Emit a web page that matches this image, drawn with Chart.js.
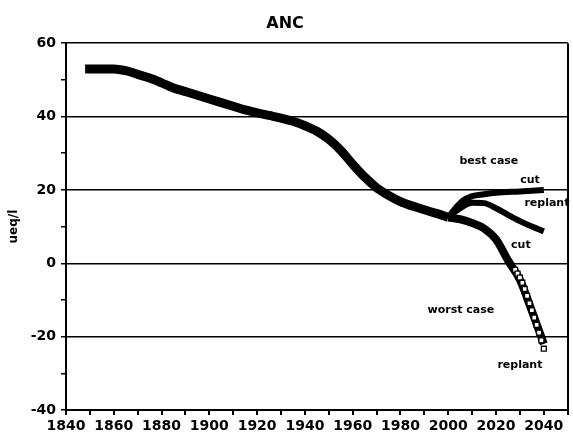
<!DOCTYPE html>
<html>
<head>
<meta charset="utf-8">
<script src="https://cdn.jsdelivr.net/npm/chart.js@4/dist/chart.umd.min.js"></script>
<style>
  html, body { margin: 0; padding: 0; background: #fff; }
  #wrap { width: 573px; height: 437px; }
</style>
</head>
<body>
<div id="wrap"><canvas id="chartCanvas"></canvas></div>
<script>
// historical ANC, ueq/l
const mainYears = [1848, 1850, 1855, 1860, 1865, 1870, 1875, 1880, 1885, 1890, 1895, 1900, 1905, 1910, 1915, 1920, 1925, 1930, 1935, 1940, 1945, 1950, 1955, 1960, 1965, 1970, 1975, 1980, 1985, 1990, 1995, 2000];
const mainValues = [53, 53, 53, 53, 52.5, 51.5, 50.5, 49.2, 47.8, 46.8, 45.8, 44.8, 43.8, 42.8, 41.8, 41, 40.3, 39.6, 38.7, 37.5, 36, 33.8, 30.8, 27, 23.5, 20.6, 18.5, 16.8, 15.6, 14.6, 13.6, 12.5];

// scenarios
const bestCutYears = [2000, 2003, 2006, 2010, 2015, 2020, 2030, 2040];
const bestCutValues = [12.5, 15, 17, 18.3, 18.8, 19.2, 19.6, 20];
const bestReplantYears = [2000, 2005, 2010, 2015, 2020, 2025, 2030, 2035, 2040];
const bestReplantValues = [12.5, 15, 16.5, 16.4, 15, 13.2, 11.5, 10, 8.7];
const worstCutYears = [2000, 2005, 2010, 2015, 2020, 2025, 2030, 2035, 2040];
const worstCutValues = [12.5, 12, 11, 9.5, 6.5, 0.8, -4.5, -13, -22];
const worstReplantYears = [2028, 2029, 2030, 2031, 2032, 2033, 2034, 2035, 2036, 2037, 2038, 2039, 2040];
const worstReplantValues = [-1.8, -2.8, -3.9, -5.3, -7, -8.9, -10.9, -12.8, -14.8, -16.8, -18.9, -21, -23.3];

// tick labels
const xTickLabels = [1840, 1860, 1880, 1900, 1920, 1940, 1960, 1980, 2000, 2020, 2040];
const yTickLabels = [-40, -20, 0, 20, 40, 60];

// curve labels (year, value)
const noteTexts = ['best case', 'cut', 'replant', 'cut', 'worst case', 'replant'];
const noteYears = [2017, 2034.2, 2041.3, 2030.4, 2005.3, 2030];
const noteValues = [27.9, 22.7, 16.5, 5.0, -12.7, -27.9];

const pts = (xs, ys) => xs.map((x, i) => ({ x: x, y: ys[i] }));
const FONT = "'DejaVu Sans', sans-serif";

const notesPlugin = {
    id: 'notes',
    afterDatasetsDraw(chart) {
        const c = chart.ctx;
        const xs = chart.scales.x, ys = chart.scales.y;
        c.save();
        c.fillStyle = '#000';
        c.font = 'bold 11px ' + FONT;
        c.textAlign = 'center';
        c.textBaseline = 'middle';
        noteTexts.forEach((t, i) => {
            c.fillText(t, xs.getPixelForValue(noteYears[i]), ys.getPixelForValue(noteValues[i]));
        });
        c.restore();
    }
};

const line = (data, width) => ({
    data: data,
    order: 1,
    borderColor: '#000',
    backgroundColor: '#000',
    borderWidth: width,
    pointRadius: 0,
    cubicInterpolationMode: 'monotone',
    borderCapStyle: 'butt',
    borderJoinStyle: 'round'
});

new Chart(document.getElementById('chartCanvas').getContext('2d'), {
    type: 'line',
    data: {
        datasets: [
            line(pts(mainYears, mainValues), 9),
            line(pts(bestCutYears, bestCutValues), 6),
            line(pts(bestReplantYears, bestReplantValues), 6),
            line(pts(worstCutYears, worstCutValues), 8),
            {
                data: pts(worstReplantYears, worstReplantValues),
                order: 0,
                showLine: false,
                pointStyle: 'rect',
                pointRadius: 3.5,
                pointBackgroundColor: '#fff',
                pointBorderColor: '#000',
                pointBorderWidth: 1.3
            }
        ]
    },
    options: {
        responsive: true,
        maintainAspectRatio: false,
        animation: false,
        devicePixelRatio: 1,
        layout: { padding: { left: 0, right: 3, top: 0, bottom: 0 } },
        plugins: {
            legend: { display: false },
            tooltip: { enabled: false },
            title: {
                display: true,
                text: 'ANC',
                color: '#000',
                font: { family: FONT, size: 16, weight: 'bold' },
                padding: { top: 14, bottom: 10 }
            }
        },
        scales: {
            x: {
                type: 'linear',
                min: 1840,
                max: 2050,
                afterFit: s => { s.height = 27; },
                ticks: {
                    stepSize: 10,
                    autoSkip: false,
                    maxRotation: 0,
                    padding: 3,
                    color: '#000',
                    font: { family: FONT, size: 14, weight: 'bold' },
                    callback: v => xTickLabels.includes(v) ? String(v) : ''
                },
                grid: {
                    drawOnChartArea: true,
                    color: ctx => (ctx.tick && ctx.tick.value === 2050) ? '#000' : 'rgba(0,0,0,0)',
                    tickColor: '#000',
                    tickLength: 5,
                    lineWidth: 2
                },
                border: { color: '#000', width: 2 }
            },
            y: {
                min: -40,
                max: 60,
                afterFit: s => { s.width = 66; },
                title: {
                    display: true,
                    text: 'ueq/l',
                    color: '#000',
                    font: { family: FONT, size: 12, weight: 'bold' },
                    padding: { top: 7, bottom: 0 }
                },
                ticks: {
                    stepSize: 10,
                    autoSkip: false,
                    padding: 5,
                    color: '#000',
                    font: { family: FONT, size: 14, weight: 'bold' },
                    callback: v => yTickLabels.includes(v) ? String(v) : ''
                },
                grid: {
                    color: ctx => (ctx.tick && yTickLabels.includes(ctx.tick.value)) ? '#000' : 'rgba(0,0,0,0)',
                    tickColor: '#000',
                    tickLength: 5,
                    lineWidth: 1.5
                },
                border: { color: '#000', width: 2 }
            }
        }
    },
    plugins: [notesPlugin]
});
</script>
</body>
</html>
